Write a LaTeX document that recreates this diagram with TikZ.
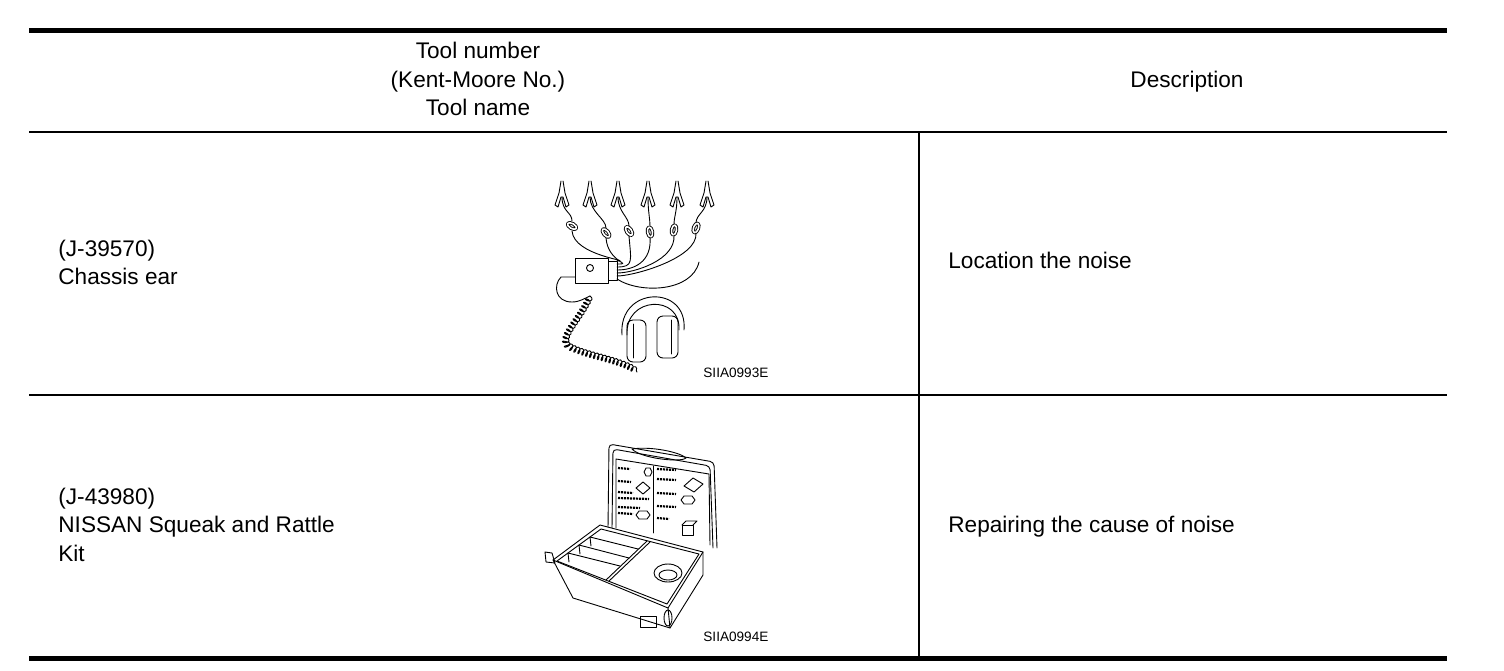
\documentclass[tikz,border=0pt]{standalone}
\usepackage{fontspec}
\setmainfont{Liberation Sans}
\usetikzlibrary{decorations.pathmorphing}

\begin{document}
\begin{tikzpicture}[x=0.5pt,y=-0.5pt,
    cell/.style={font=\fontsize{11.3}{13}\selectfont,inner sep=0pt},
    figno/.style={font=\fontsize{6.8}{8}\selectfont,inner sep=0pt,anchor=base west},
    art/.style={line width=0.45pt,line join=round,line cap=round},
    chart/.style={line width=1.1pt,dash pattern=on 1pt off 0.5pt},
    cord/.style={art,decorate,decoration={coil,amplitude=1.6pt,segment length=2pt}}]
    \useasboundingbox (0,0) rectangle (1504,670);
    % table rules
    \draw[line width=2.5pt] (29,30.5)--(1447,30.5);
    \draw[line width=1pt] (29,132)--(1447,132);
    \draw[line width=1pt] (29,395)--(1447,395);
    \draw[line width=2.5pt] (29,658.5)--(1447,658.5);
    \draw[line width=0.8pt] (919,132)--(919,657);

    \node[cell,anchor=base] (hnum) at (478,58.5) {Tool number};
    \node[cell,anchor=base] (hkm) at (478,87) {(Kent-Moore No.)};
    \node[cell,anchor=base] (hname) at (478,115.5) {Tool name};
    \node[cell,anchor=base] (hdesc) at (1187,87) {Description};

    \node[cell,anchor=base west] (ear) at (58,256) {(J-39570)};
    \node[cell,anchor=base west] (earname) at (58,284.5) {Chassis ear};
    \node[cell,anchor=base west] (eardesc) at (948,268.8) {Location the noise};
    \node[cell,anchor=base west] (kit) at (58,504) {(J-43980)};
    \node[cell,anchor=base west] (kitname) at (58,532.5) {NISSAN Squeak and Rattle};
    \node[cell,anchor=base west] (kitname2) at (58,561) {Kit};
    \node[cell,anchor=base west] (kitdesc) at (948,532) {Repairing the cause of noise};

    \node[figno] (earfig) at (703,377.3) {SIIA0993E};
    \node[figno] (kitfig) at (703,641.3) {SIIA0994E};

    % chassis ear: clips, leads, box, headphones
    \foreach \x in {562,590,618,648,677,707}{
      \draw[art] (\x-1,181)--(\x-3,193)--(\x-7,205)--(\x-4,207)--(\x-1,197)--(\x+1,197)--(\x+4,207)--(\x+7,205)--(\x+3,193)--(\x+1,181);
    }
    \foreach \x/\cx/\cy/\a [count=\i] in {562/572/226/60, 590/606/233/40, 618/629/231/35, 648/650/232/10, 677/674/230/-10, 707/696/228/-20}{
      \draw[art] (\x,197) .. controls (\x,212) and (\cx,\cy-14) .. (\cx,\cy-5);
      \draw[art,double,double distance=0.8pt,rotate around={\a:(\cx,\cy)}] (\cx,\cy) ellipse [x radius=2.5,y radius=5];
      \draw[art] (\cx,\cy+5) .. controls (\cx+2,\cy+30) and (634,258+3*\i) .. (617,258+3*\i);
    }
    \draw[art] (575,258) rectangle (608,283);
    \draw[art] (590,268) circle (3.5);
    \draw[art] (608,261) rectangle (617,280);
    \draw[art] (617,279) .. controls (640,294) and (692,292) .. (699,262);
    \draw[art] (575,277) -- (561,277) .. controls (553,285) and (555,302) .. (572,302) .. controls (580,302) and (585,298) .. (590,296);
    \draw[cord] (590,296) .. controls (580,320) and (560,335) .. (568,345) .. controls (580,355) and (625,360) .. (637,372);
    \draw[art] (622,335) .. controls (618,286) and (688,284) .. (684,330);
    \draw[art] (627,335) .. controls (625,296) and (681,294) .. (679,330);
    \draw[art,rounded corners=3] (627,320) rectangle (646,362);
    \draw[art,rounded corners=3] (657,316) rectangle (678,358);
    \draw[art] (633,324)--(633,358);
    \draw[art] (671,320)--(671,354);

    % squeak and rattle kit: open case
    \draw[art,rounded corners=2] (608,528)--(609,444)--(714,462)--(717,548);
    \draw[art,rounded corners=2] (612,528)--(613,449)--(710,466)--(713,548);
    \draw[art] (632,449) .. controls (650,446) and (680,452) .. (686,458) .. controls (680,463) and (640,458) .. cycle;
    \draw[art] (616,528)--(616,459)--(709,474)--(710,545);
    \draw[art] (653,466)--(653,533);
    \foreach \y/\l in {468/12, 481/13, 492/15, 498/31, 507/22, 513/15}{
      \draw[chart] (618,\y)--(618+\l,\y+1);
    }
    \foreach \y/\l in {469/19, 479/19, 493/19, 506/19, 518/12}{
      \draw[chart] (657,\y)--(657+\l,\y+1);
    }
    \draw[art] (644,472)--(646,468)--(650,468)--(652,472)--(650,476)--(646,476)--cycle;
    \draw[art] (636,488)--(643,482)--(650,488)--(643,494)--cycle;
    \draw[art] (684,486)--(693,478)--(703,484)--(694,492)--cycle;
    \draw[art] (681,500)--(684,496)--(692,496)--(695,500)--(692,504)--(684,504)--cycle;
    \draw[art] (636,515)--(639,511)--(647,511)--(650,515)--(647,519)--(639,519)--cycle;
    \draw[art] (682,525) rectangle (693,535);
    \draw[art] (682,525)--(686,521)--(697,521)--(693,525);
    \filldraw[art,fill=white] (553,560)--(600,525)--(703,552)--(703,575)--(670,628)--(573,598)--cycle;
    \draw[art] (557,561)--(601,529)--(699,554)--(667,604)--cycle;
    \draw[art] (553,560)--(668,608)--(703,552);
    \draw[art] (668,608)--(670,628);
    \draw[art] (647,541)--(606,580);
    \draw[art] (650,542)--(609,581);
    \draw[art] (590,537)--(638,549);
    \draw[art] (579,545)--(629,558);
    \draw[art] (568,553)--(620,566);
    \foreach \x/\y in {590/537, 579/545, 568/553}{
      \draw[art] (\x,\y)--(\x+1,\y+9);
    }
    \draw[art] (668,573) ellipse [x radius=14,y radius=9];
    \draw[art] (668,575) ellipse [x radius=9,y radius=5];
    \draw[art] (545,552)--(552,553)--(555,563)--(546,562)--cycle;
    \draw[art] (668,618) ellipse [x radius=4,y radius=8];
    \draw[art] (640,616) rectangle (656,627);
\end{tikzpicture}
\end{document}
